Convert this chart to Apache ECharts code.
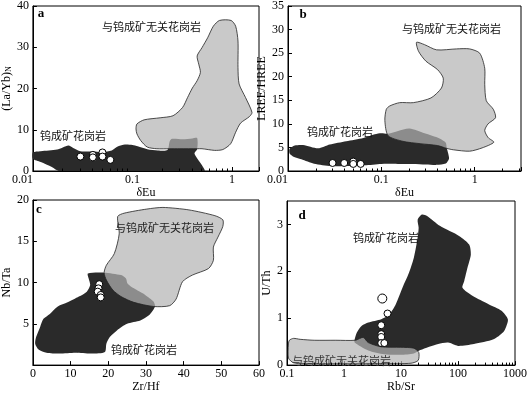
<!DOCTYPE html>
<html><head><meta charset="utf-8">
<script src="https://cdn.jsdelivr.net/npm/echarts@6/dist/echarts.min.js"></script>
<style>html,body{margin:0;padding:0;background:#fff}#c{width:530px;height:394px}</style>
</head><body><div id="c"></div>
<script>
// ---------- DATA ----------
// Panel a: δEu vs (La/Yb)N
const darkA = [[0.01,4.5],[0.012,4.8],[0.0175,5.2],[0.0227,6.2],[0.0254,5.6],[0.03,4.8],[0.04,4.7],[0.05,4.6],[0.062,5.0],[0.072,6.0],[0.084,6.4],[0.1,6.3],[0.113,6.0],[0.141,5.3],[0.18,5.0],[0.225,5.1],[0.237,7.2],[0.25,7.8],[0.32,7.7],[0.40,7.9],[0.447,8.0],[0.447,5.3],[0.42,4.3],[0.45,3.0],[0.5,1.4],[0.53,0],[0.0185,0],[0.0155,1.0],[0.012,2.2],[0.01,3.0]];
const lightA = [[0.1086,10.2],[0.111,11.4],[0.131,12.4],[0.19,12.9],[0.256,13.4],[0.319,15.4],[0.358,17.8],[0.40,20.1],[0.447,21.9],[0.482,23.9],[0.464,25.9],[0.447,27.9],[0.50,29.9],[0.57,32.3],[0.65,35.1],[0.75,36.5],[0.98,36.5],[1.09,35.1],[1.15,31.5],[1.15,25.1],[1.18,21.1],[1.37,17.8],[1.59,14.2],[1.5,13.2],[1.22,11.6],[1.09,9.4],[0.97,6.6],[0.81,5.2],[0.67,5.0],[0.50,5.4],[0.447,5.4],[0.3,5.4],[0.237,5.4],[0.176,5.4],[0.141,5.8],[0.121,7.4],[0.111,9.0]];
const ptsAx = [0.03,0.04,0.04,0.05,0.05,0.06];
const ptsAy = [3.5,3.9,3.3,4.5,3.5,2.7];
// Panel b: δEu vs LREE/HREE
const darkB = [[0.0104,4.7],[0.0118,5.4],[0.0145,5.5],[0.021,4.8],[0.028,5.6],[0.042,6.3],[0.064,7.0],[0.085,7.8],[0.1,8.0],[0.118,7.9],[0.151,8.5],[0.20,9.0],[0.29,8.0],[0.42,6.9],[0.49,6.0],[0.50,5.0],[0.52,3.7],[0.53,2.6],[0.49,1.6],[0.39,1.3],[0.3,1.4],[0.15,1.5],[0.1,1.5],[0.066,1.2],[0.044,1.05],[0.029,1.05],[0.019,1.55],[0.0139,2.5],[0.0113,3.1],[0.0104,3.7]];
const lightB = [[0.238,27.3],[0.29,26.8],[0.39,25.7],[0.64,25.9],[0.88,25.9],[1.13,25.0],[1.28,21.8],[1.28,18.4],[1.33,14.9],[1.58,13.1],[1.67,11.3],[1.39,10.0],[1.28,8.6],[1.39,7.1],[1.6,6.1],[1.2,4.9],[0.88,4.2],[0.59,4.5],[0.5,4.8],[0.4,5.4],[0.26,5.8],[0.17,6.3],[0.118,7.5],[0.109,10.7],[0.113,13.1],[0.123,13.8],[0.157,14.5],[0.22,14.5],[0.34,15.5],[0.44,17.6],[0.46,19.7],[0.40,21.5],[0.30,23.3],[0.25,25.4]];
const ptsBx = [0.03,0.04,0.05,0.05,0.06];
const ptsBy = [1.7,1.7,2.0,1.5,1.5];
// Panel c: Zr/Hf vs Nb/Ta
const darkC = [[14.6,11.1],[18.9,11.2],[23.4,10.9],[24.7,10.5],[25.1,9.9],[26.8,9.3],[29.8,8.5],[32,7.7],[32.4,7.1],[31.5,6.4],[30.7,6.0],[28.5,5.4],[25,5.0],[22.3,4.2],[20.4,3.4],[19.5,2.6],[19.1,1.6],[15.6,1.4],[11.3,1.5],[7.0,1.4],[3.6,1.5],[1.5,1.9],[0.6,2.6],[0.85,3.4],[1.9,4.6],[2.8,5.6],[4.5,6.2],[6.6,7.1],[9.2,7.6],[12.2,8.3],[14.3,8.9],[15.2,9.7],[14.8,10.5]];
const lightC = [[18.9,11.2],[19.5,12.1],[21.6,13.5],[22.9,15.9],[22.5,18.0],[24.2,18.4],[30.2,18.9],[34.5,19.1],[41.4,18.8],[48.3,18.1],[50.4,17.6],[50.4,16.8],[49.1,15.5],[47.9,14.3],[47.9,12.7],[46.6,11.7],[42.3,10.9],[39.7,10.1],[38,8.0],[36.3,7.2],[32,7.1],[26.8,7.6],[23.4,8.3],[21.2,9.1],[19.5,10.3]];
const ptsCx = [17.6,17.4,17.2,18.0,18.0];
const ptsCy = [9.8,9.3,8.9,8.5,8.2];
// Panel d: Rb/Sr vs U/Th
const darkD = [[1.54,0.55],[1.69,0.70],[2.05,0.84],[2.67,0.91],[4.5,0.98],[6.2,1.08],[8.1,1.30],[10.6,1.65],[13.8,1.97],[16.8,2.29],[19.2,2.65],[20.4,2.93],[19.6,3.1],[23.3,3.21],[28.7,3.18],[48,2.97],[106,2.75],[157,2.57],[168,2.36],[147,2.08],[129,1.80],[120,1.65],[179,1.48],[344,1.30],[580,1.16],[750,0.98],[700,0.82],[620,0.70],[420,0.55],[190,0.45],[100,0.41],[67,0.48],[45,0.45],[21.8,0.32],[16.8,0.25],[9.9,0.22],[5.1,0.23],[2.67,0.31],[1.54,0.48]];
const lightD = [[0.106,0.45],[0.11,0.53],[0.13,0.57],[0.17,0.55],[0.3,0.53],[0.72,0.53],[1.58,0.53],[2.17,0.59],[2.67,0.48],[4.5,0.39],[9.9,0.38],[16.8,0.36],[20.5,0.27],[20,0.1],[15,0.04],[5,0.03],[0.2,0.03],[0.13,0.05],[0.106,0.15]];
const ptsDx = [4.7,5.8,4.5,4.5,4.5,4.5,5.1];
const ptsDy = [1.42,1.1,0.85,0.66,0.6,0.47,0.47];
// minor tick values on the log axes
const minorA = [0.02,0.03,0.04,0.05,0.06,0.07,0.08,0.09,0.2,0.3,0.4,0.5,0.6,0.7,0.8,0.9];
const minorB = [0.02,0.03,0.04,0.05,0.06,0.07,0.08,0.09,0.2,0.3,0.4,0.5,0.6,0.7,0.8,0.9,2,3];
const minorD = [0.2,0.3,0.4,0.5,0.6,0.7,0.8,0.9,2,3,4,5,6,7,8,9,20,30,40,50,60,70,80,90,200,300,400,500,600,700,800,900];
// labels
const labelNon = '与钨成矿无关花岗岩';
const labelOre = '钨成矿花岗岩';

// ---------- CHART ----------
const chart = echarts.init(document.getElementById('c'), null, {renderer:'canvas'});
const SERIF = '"Liberation Serif","Times New Roman",serif';
const CJK = '"Noto Sans CJK SC",sans-serif';
const DARK = '#2a2a2a';
const LIGHT = 'rgba(179,179,179,0.714)';

const grids = [
  {left:25, top:5, width:234, height:166},
  {left:288, top:5, width:233, height:166},
  {left:26, top:200, width:233, height:169},
  {left:287, top:201, width:234, height:167}
].map(g => Object.assign({show:true, borderColor:'#000', borderWidth:1, backgroundColor:'transparent'}, g));

const logFmt = v => { const l = Math.log10(v); return Math.abs(l - Math.round(l)) < 1e-6 ? String(+v.toPrecision(6)) : ''; };
function axisCommon(i, extra) {
  return Object.assign({
    gridIndex: i,
    axisLine: {show:true, lineStyle:{color:'#000', width:1}},
    axisTick: {show:true, inside:true, length:4, lineStyle:{color:'#000', width:1}},
    splitLine: {show:false},
    nameLocation: 'middle',
    nameTextStyle: {color:'#000', fontFamily:SERIF, fontSize:12}
  }, extra);
}
const xLabel = extra => Object.assign({color:'#000', fontFamily:SERIF, fontSize:12, margin:3}, extra);
const yLabel = extra => Object.assign({color:'#000', fontFamily:SERIF, fontSize:12, margin:4}, extra);

const xAxes = [
  axisCommon(0, {type:'log', logBase:10, min:0.01, max:1.87, name:'δEu', nameGap:15,
    axisLabel: xLabel({formatter: logFmt, alignMinLabel:'right'})}),
  axisCommon(1, {type:'log', logBase:10, min:0.01, max:3.13, name:'δEu', nameGap:15,
    axisLabel: xLabel({formatter: logFmt, alignMinLabel:'right'})}),
  axisCommon(2, {type:'value', min:0, max:60, interval:10, name:'Zr/Hf', nameGap:14,
    axisLabel: xLabel({})}),
  axisCommon(3, {type:'log', logBase:10, min:0.1, max:1000, name:'Rb/Sr', nameGap:15,
    axisLabel: xLabel({formatter: logFmt})})
];
const yAxes = [
  axisCommon(0, {type:'value', min:0, max:40, interval:10, name:'(La/Yb){s|N}', nameGap:12,
    nameTextStyle:{color:'#000', fontFamily:SERIF, fontSize:12, rich:{s:{fontFamily:SERIF, fontSize:8, verticalAlign:'bottom', color:'#000'}}},
    axisLabel: yLabel({})}),
  axisCommon(1, {type:'value', min:0, max:35, interval:5, name:'LREE/HREE', nameGap:13,
    axisLabel: yLabel({})}),
  axisCommon(2, {type:'value', min:0, max:20, interval:5, name:'Nb/Ta', nameGap:11,
    axisLabel: yLabel({showMinLabel:false})}),
  axisCommon(3, {type:'value', min:0, max:3.5, interval:1, name:'U/Th', nameGap:12,
    axisLabel: yLabel({showMaxLabel:false, formatter: v => (Math.abs(v - Math.round(v)) < 1e-9 ? String(v) : '')})})
];

function polySeries(i, pts, fill, stroke) {
  return {
    type:'custom', xAxisIndex:i, yAxisIndex:i, data:[pts[0]], silent:true, clip:true, z:2,
    renderItem: (params, api) => ({
      type:'polygon',
      shape:{points: pts.map(p => api.coord(p)), smooth: 0.25},
      style:{fill: fill, stroke: stroke || null, lineWidth: stroke ? 0.8 : 0}
    })
  };
}
function tickSeries(i, vals, ymin) {
  return {
    type:'custom', xAxisIndex:i, yAxisIndex:i, data: vals.map(v => [v, ymin]), silent:true, z:3,
    renderItem: (params, api) => {
      const p = api.coord([api.value(0), api.value(1)]);
      const x = Math.round(p[0] - 0.5) + 0.5;
      return {type:'line', shape:{x1:x, y1:p[1], x2:x, y2:p[1] - 2.5}, style:{stroke:'#000', lineWidth:1}};
    }
  };
}
function pointSeries(i, xs, ys, bigFirst) {
  return {
    type:'scatter', xAxisIndex:i, yAxisIndex:i, silent:true, z:4,
    data: xs.map((x, k) => [x, ys[k]]), symbol:'circle',
    symbolSize: (val, params) => (bigFirst && params.dataIndex === 0 ? 9 : 7),
    itemStyle:{color:'#fff', borderColor:'#000', borderWidth:1, opacity:1}
  };
}

const series = [
  tickSeries(0, minorA, 0), polySeries(0, darkA, DARK), polySeries(0, lightA, LIGHT, '#222'), pointSeries(0, ptsAx, ptsAy),
  tickSeries(1, minorB, 0), polySeries(1, darkB, DARK), polySeries(1, lightB, LIGHT, '#222'), pointSeries(1, ptsBx, ptsBy),
  polySeries(2, darkC, DARK), polySeries(2, lightC, LIGHT, '#222'), pointSeries(2, ptsCx, ptsCy),
  tickSeries(3, minorD, 0), polySeries(3, darkD, DARK), polySeries(3, lightD, LIGHT, '#222'), pointSeries(3, ptsDx, ptsDy, true)
];

function txt(x, y, text, color) {
  return {type:'text', x:x, y:y, z:10, silent:true,
    style:{text:text, font:'11px ' + CJK, fill: color || '#111', align:'left', verticalAlign:'top'}};
}
function letter(x, y, t) {
  return {type:'text', x:x, y:y, z:10, silent:true,
    style:{text:t, font:'bold 13px ' + SERIF, fill:'#000', align:'center', verticalAlign:'middle'}};
}

chart.setOption({
  animation:false,
  backgroundColor:'#fff',
  grid: grids,
  xAxis: xAxes,
  yAxis: yAxes,
  series: series,
  graphic: [
    letter(41, 14, 'a'), letter(303, 15, 'b'), letter(39, 210, 'c'), letter(302, 216, 'd'),
    txt(102, 21, labelNon), txt(40, 130, labelOre),
    txt(402, 23, labelNon), txt(307, 126, labelOre),
    txt(115, 222, labelNon, '#222'), txt(111, 344, labelOre),
    txt(353, 232, labelOre), txt(292, 355, labelNon, '#333')
  ]
});
</script>
</body></html>
